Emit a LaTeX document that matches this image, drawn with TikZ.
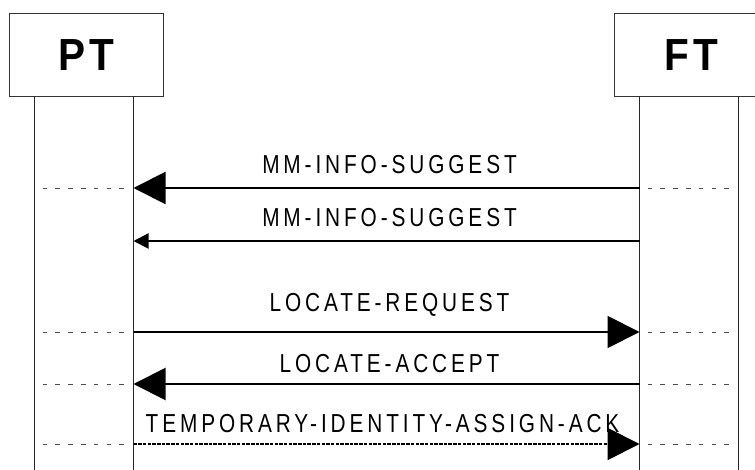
\documentclass[tikz,border=0pt]{standalone}
\usepackage{fontspec}
\setmainfont{Liberation Sans}
\newfontfamily\msgfont[FakeStretch=0.8,LetterSpace=15]{Liberation Sans}
\newfontfamily\entfont[FakeStretch=0.9,LetterSpace=9]{Liberation Sans}
\usetikzlibrary{arrows.meta,positioning}

\begin{document}
\begin{tikzpicture}[x=1pt, y=-1pt, node distance=450pt,
    ent/.style={draw=black!80, line width=1pt, minimum width=154pt, minimum height=83pt, inner sep=0pt,
      font=\entfont\bfseries\fontsize{45}{50}\selectfont},
    life/.style={draw=black!85, line width=1pt},
    stub/.style={draw=black!70, line width=0.8pt, dash pattern=on 4.7pt off 8.1pt, shorten <=8pt, shorten >=8pt},
    msg/.style={line width=2pt, -{Triangle[length=32pt,width=32pt]}},
    thin tip/.style={-{Triangle[length=15pt,width=15pt]}},
    lbl/.style={anchor=base, inner sep=0pt, xshift=3pt, font=\msgfont\fontsize{26}{30}\selectfont}]
  \useasboundingbox (0,0) rectangle (755,470);
  \clip (0,0) rectangle (755,470);
  \coordinate (bot) at (0,470);
  \node[ent] (PT) at (86,55.5) {PT};
  \node[ent, right=of PT] (FT) {FT};
  % lifelines
  \coordinate (PTl) at ([xshift=26pt]PT.south west); \coordinate (PTr) at ([xshift=-30pt]PT.south east);
  \coordinate (FTl) at ([xshift=26pt]FT.south west); \coordinate (FTr) at ([xshift=-30pt]FT.south east);
  \draw[life] (PTl) -- (PTl |- bot); \draw[life] (PTr) -- (PTr |- bot);
  \draw[life] (FTl) -- (FTl |- bot); \draw[life] (FTr) -- (FTr |- bot);
  \foreach \n/\y in {1/188,2/241,3/332,4/384,5/444} {
    \coordinate (p\n) at (PTr |- 0,\y); \coordinate (f\n) at (FTl |- 0,\y);
  }
  \foreach \n in {1,3,4,5} {
    \draw[stub] (PTl |- p\n) -- (p\n); \draw[stub] (f\n) -- (FTr |- f\n);
  }
  % messages
  \draw[msg] (f1) -- node[lbl, yshift=14pt] (m1) {MM-INFO-SUGGEST} (p1);
  \draw[msg, thin tip] (f2) -- node[lbl, yshift=14pt] (m2) {MM-INFO-SUGGEST} (p2);
  \draw[msg] (p3) -- node[lbl, yshift=20pt] (m3) {LOCATE-REQUEST} (f3);
  \draw[msg] (f4) -- node[lbl, yshift=12pt] (m4) {LOCATE-ACCEPT} (p4);
  \draw[msg, dash pattern=on 3.5pt off 1.2pt] (p5) -- node[lbl, yshift=11.5pt, xshift=-7pt] (m5) {TEMPORARY-IDENTITY-ASSIGN-ACK} (f5);
\end{tikzpicture}
\end{document}
